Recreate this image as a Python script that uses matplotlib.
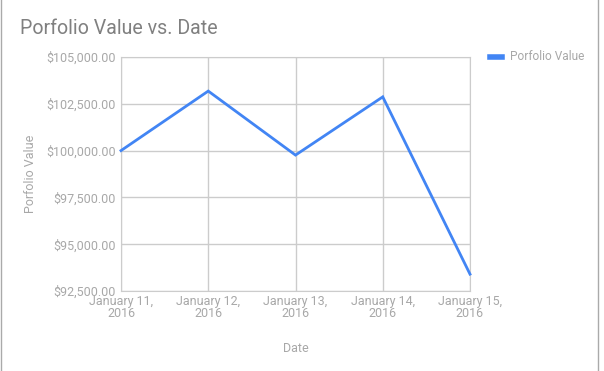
import matplotlib

matplotlib.use("Agg")
import matplotlib.pyplot as plt
from matplotlib.lines import Line2D

plt.rcParams["font.family"] = ["Roboto", "DejaVu Sans"]

# data
dates = ["January 11,\n2016", "January 12,\n2016", "January 13,\n2016",
         "January 14,\n2016", "January 15,\n2016"]
values = [100000, 103180, 99760, 102870, 93400]
y_ticks = [92500, 95000, 97500, 100000, 102500, 105000]

LINE = "#4285f4"
GRID = "#cccccc"
TICK = "#a8a8a8"
TEXT = "#808080"

fig = plt.figure(figsize=(6.04, 3.71), dpi=100)
ax = fig.add_axes([121 / 604, 1 - 291 / 371, 349 / 604, 234 / 371])

x = list(range(len(dates)))
ax.plot(x, values, color=LINE, lw=2, solid_joinstyle="miter", clip_on=False,
        zorder=3)

ax.set_xlim(0, len(dates) - 1)
ax.set_ylim(y_ticks[0], y_ticks[-1])
ax.set_xticks(x)
ax.set_xticklabels(dates, linespacing=0.85)
ax.set_yticks(y_ticks)
ax.set_yticklabels([f"${v:,.2f}" for v in y_ticks])
ax.grid(True, color=GRID, lw=1)
for s in ax.spines.values():
    s.set_color(GRID)
ax.tick_params(length=0, labelsize=9, colors=TICK, pad=4)
ax.tick_params(axis="x", pad=3)

ax.set_xlabel("Date", fontsize=9, color=TICK, labelpad=16)
ax.set_ylabel("Porfolio Value", fontsize=9, color=TICK, labelpad=6)

fig.text(20 / 604, 1 - 29 / 371, "Porfolio Value vs. Date", fontsize=14.1,
         color=TEXT, va="center", ha="left")

# legend
fig.add_artist(Line2D([490 / 604, 502 / 604], [1 - 57 / 371] * 2, color=LINE,
                      lw=4, transform=fig.transFigure))
fig.text(510 / 604, 1 - 57 / 371, "Porfolio Value", fontsize=8.6, color=TICK,
         va="center", ha="left")

# faint frame edges of the original screenshot
fig.add_artist(Line2D([1 / 604] * 2, [0, 1], color="#aaaaaa", lw=1,
                      transform=fig.transFigure))
fig.add_artist(Line2D([598 / 604] * 2, [0, 1], color="#aaaaaa", lw=1,
                      transform=fig.transFigure))

fig.savefig("out.png", dpi=100)
